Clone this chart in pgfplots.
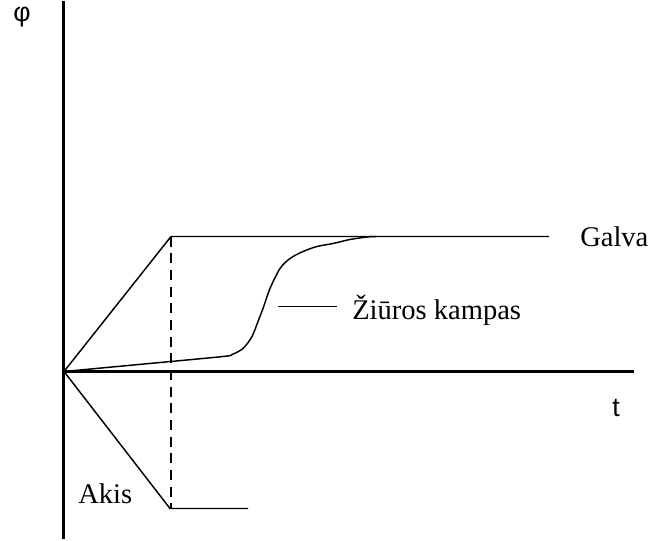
\documentclass[border=0pt]{standalone}
\usepackage{fontspec}
\setmainfont{Liberation Serif}
\newfontfamily\sansf{Liberation Sans}
\usepackage{pgfplots}
\pgfplotsset{compat=1.18}
\begin{document}
\begin{tikzpicture}
\begin{axis}[
  scale only axis,
  width=427.5pt, height=402.75pt,
  xmin=0, xmax=570, ymin=-167, ymax=370,
  axis lines=middle,
  axis line style={-, line width=2.25pt, black},
  xtick=\empty, ytick=\empty,
  clip=false,
]
\path (axis cs:-64,-167) rectangle (axis cs:592,370);
% Galva
\addplot[black, line width=1.1pt] coordinates {(0,0) (107,135) (485,135)};
% Akis
\addplot[black, line width=1.1pt] coordinates {(0,0) (106,-137) (184,-137)};
% dashed
\addplot[black, line width=1.1pt, dash pattern=on 7.5pt off 5pt] coordinates {(107,135) (107,-137)};
% Ziuros kampas
\addplot[black, line width=1.1pt, smooth, tension=0.5] coordinates {
 (0,0) (80,7.5) (159,15) (168,17) (179,23) (188,35) (194,50) (199,63) (206,83)
 (216,103) (226,113) (239,120) (253,125) (269,128) (286,132) (303,134.5) (312,135)};
% label line
\addplot[black, line width=1.1pt] coordinates {(214,65) (273,65)};
\node[anchor=base west, inner sep=0pt, font=\fontsize{21.4}{24}\selectfont] at (axis cs:516,125) {Galva};
\node[anchor=base west, inner sep=0pt, font=\fontsize{21.4}{24}\selectfont] at (axis cs:288,52) {Žiūros kampas};
\node[anchor=base west, inner sep=0pt, font=\fontsize{21.4}{24}\selectfont] at (axis cs:14,-132) {Akis};
\node[anchor=base west, inner sep=0pt, font=\sansf\fontsize{20}{23}\selectfont] at (axis cs:548,-45) {t};
\node[anchor=center, inner sep=0pt, font=\sansf\fontsize{20}{23}\selectfont] at (axis cs:-42,354) {φ};
\end{axis}
\end{tikzpicture}
\end{document}
